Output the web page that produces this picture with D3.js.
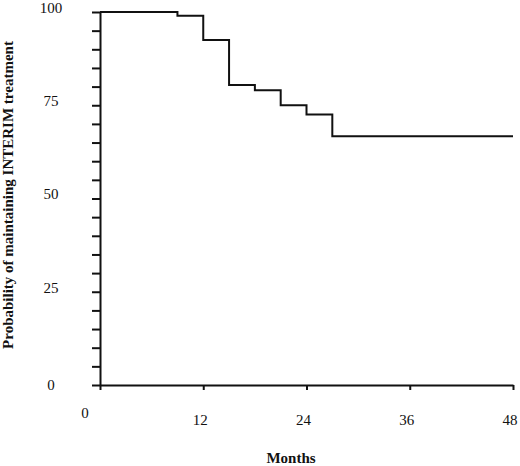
<!DOCTYPE html>
<html>
<head>
<meta charset="utf-8">
<script src="https://cdn.jsdelivr.net/npm/d3@7"></script>
<style>
  body { margin: 0; background: #fff; }
  svg { display: block; font-family: "Liberation Serif", "Times New Roman", serif; }
</style>
</head>
<body>
<svg id="chart"></svg>
<script>
// Kaplan-Meier style step curve
const months = [0, 9, 12, 15, 18, 21, 24, 27, 48];
const probability = [100, 99, 92.5, 80.4, 79, 75, 72.5, 66.7, 66.7];
const xTicks = [0, 12, 24, 36, 48];
const yLabels = [0, 25, 50, 75, 100];

const width = 520;
const height = 466;
const ink = '#111';

const svg = d3.select('#chart')
  .attr('width', width)
  .attr('height', height)
  .attr('viewBox', [0, 0, width, height]);

const x = d3.scaleLinear().domain([0, 48]).range([100, 513]);
const y = d3.scaleLinear().domain([0, 100]).range([385, 12]);

// y axis: minor ticks every 5, labels every 25
svg.append('g')
  .attr('transform', `translate(${x(0)},0)`)
  .call(d3.axisLeft(y)
    .tickValues(d3.range(0, 101, 5))
    .tickSize(8)
    .tickSizeOuter(0)
    .tickFormat(''))
  .call(g => g.selectAll('line, path').attr('stroke', ink).attr('stroke-width', 2));

svg.append('g')
  .selectAll('text')
  .data(yLabels)
  .join('text')
  .attr('x', 51)
  .attr('y', d => y(d))
  .attr('dy', d => d === 0 ? '0.3em' : '0.05em')
  .attr('text-anchor', 'middle')
  .attr('font-size', 15)
  .attr('fill', ink)
  .text(d => d);

// x axis
svg.append('g')
  .attr('transform', `translate(0,${y(0)})`)
  .call(d3.axisBottom(x)
    .tickValues(xTicks)
    .tickSize(5)
    .tickSizeOuter(0)
    .tickFormat(''))
  .call(g => g.selectAll('line, path').attr('stroke', ink).attr('stroke-width', 2));

svg.append('g')
  .selectAll('text')
  .data(xTicks)
  .join('text')
  .attr('x', d => d === 0 ? x(d) - 15 : x(d) - 3)
  .attr('y', d => d === 0 ? 418 : 425)
  .attr('text-anchor', 'middle')
  .attr('font-size', 15)
  .attr('fill', ink)
  .text(d => d);

// survival curve
const data = months.map((m, i) => ({ m, p: probability[i] }));
svg.append('path')
  .datum(data)
  .attr('fill', 'none')
  .attr('stroke', ink)
  .attr('stroke-width', 2)
  .attr('d', d3.line()
    .x(d => x(d.m))
    .y(d => y(d.p))
    .curve(d3.curveStepAfter));

// titles
svg.append('text')
  .attr('x', 291)
  .attr('y', 463)
  .attr('text-anchor', 'middle')
  .attr('font-size', 15)
  .attr('font-weight', 'bold')
  .attr('fill', ink)
  .text('Months');

svg.append('text')
  .attr('transform', 'translate(13,195) rotate(-90)')
  .attr('text-anchor', 'middle')
  .attr('font-size', 15)
  .attr('font-weight', 'bold')
  .attr('fill', ink)
  .text('Probability of maintaining INTERIM treatment');
</script>
</body>
</html>
